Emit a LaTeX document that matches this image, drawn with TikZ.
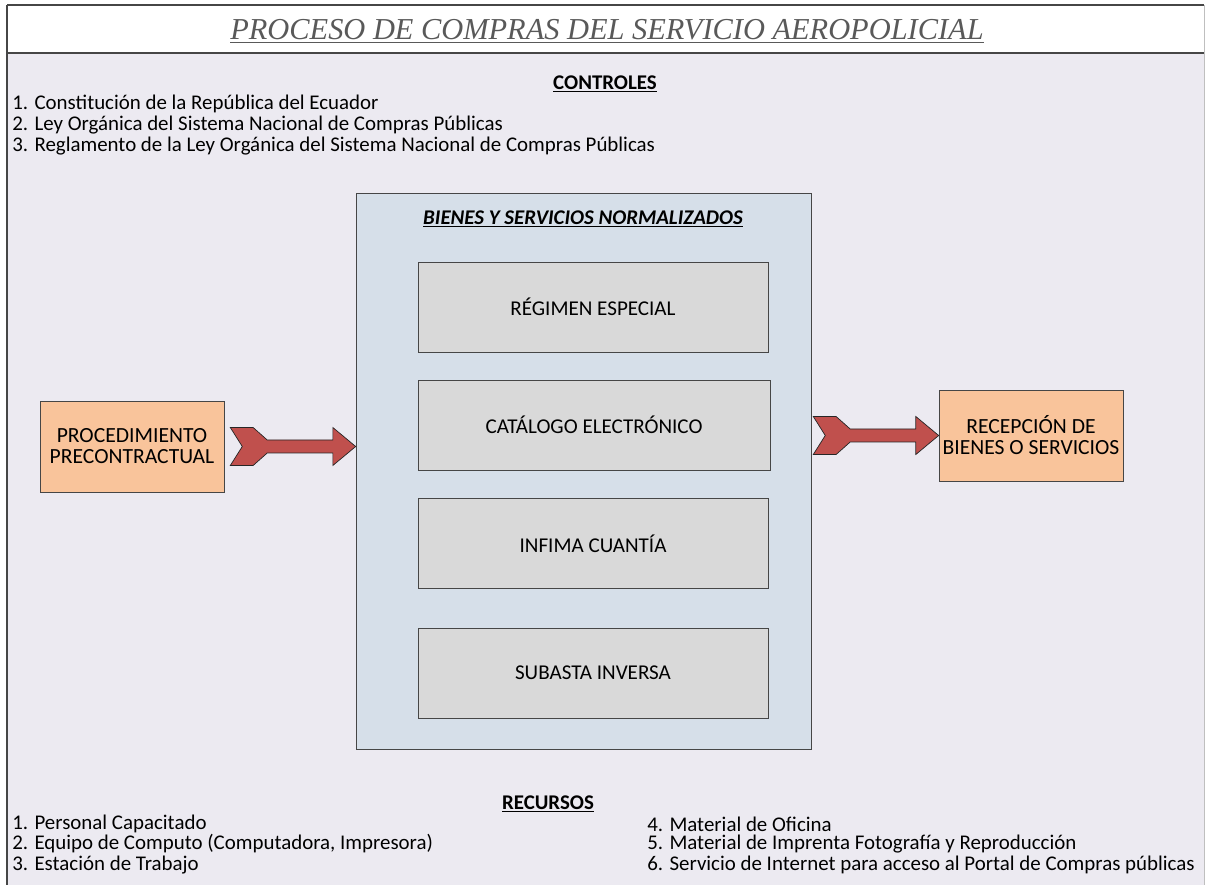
\documentclass[tikz,border=0pt]{standalone}
\usepackage{fontspec}
\setmainfont{Carlito}
\newfontfamily\titlefont{Liberation Serif}
\usetikzlibrary{calc}
\definecolor{apbg}{RGB}{236,234,241}
\definecolor{apblue}{RGB}{214,223,233}
\definecolor{apgray}{RGB}{217,217,217}
\definecolor{aporange}{RGB}{249,196,155}
\definecolor{apred}{RGB}{192,80,77}
\definecolor{apline}{RGB}{70,70,70}

% block arrow with notched tail, from #1 to #2
\newcommand{\fatarrow}[2]{%
  \filldraw[fatarrow] let \p1=(#1), \p2=(#2) in
    (\x1,\y1+10.8pt) -- (\x1+13pt,\y1+10.8pt) -- (\x1+21pt,\y1+3.7pt)
    -- (\x2-13pt,\y1+3.7pt) -- (\x2-13pt,\y1+10.8pt) -- (\x2,\y1)
    -- (\x2-13pt,\y1-10.8pt) -- (\x2-13pt,\y1-3.7pt) -- (\x1+21pt,\y1-3.7pt)
    -- (\x1+13pt,\y1-10.8pt) -- (\x1,\y1-10.8pt) -- (\x1+6.8pt,\y1) -- cycle;}

\begin{document}
\begin{tikzpicture}[x=0.02cm, y=-0.02cm,
  procbox/.style={draw=apline, fill=apgray, minimum width=7cm, minimum height=1.8cm,
    font=\fontsize{12}{14}\selectfont},
  endbox/.style={draw=apline, fill=aporange, minimum width=3.68cm, minimum height=1.82cm,
    inner xsep=1pt, align=center, font=\fontsize{12.3}{12}\selectfont},
  listtext/.style={anchor=west, inner sep=0pt, font=\fontsize{11.9}{13}\selectfont},
  headtext/.style={inner sep=0pt, font=\fontsize{11.9}{13}\selectfont\bfseries},
  fatarrow/.style={draw=black!85, fill=apred, line join=miter}]

\useasboundingbox (0,0) rectangle (1205,885);

% Frame
\fill[apbg] (7,53) rectangle (1205,885);
\fill[white] (7,5) rectangle (1204,53);
\draw[gray!50] (1204,5) -- (1204,885);
\draw[apline, thick] (7,5) -- (1204,5);
\draw[apline, thick] (7,53) -- (1204,53);
\draw[apline, thick] (7,5) -- (7,885);

\node[font=\titlefont\itshape\fontsize{17.3}{20}\selectfont, text=black!65] (title) at (607,31)
  {\underline{PROCESO DE COMPRAS DEL SERVICIO AEROPOLICIAL}};

% Controles
\node[headtext] (ctl) at (605,84) {\underline{CONTROLES}};
\node[listtext] (ctl1) at (12,104) {1. Constitución de la República del Ecuador};
\node[listtext] (ctl2) at (12,125) {2. Ley Orgánica del Sistema Nacional de Compras Públicas};
\node[listtext] (ctl3) at (12,146) {3. Reglamento de la Ley Orgánica del Sistema Nacional de Compras Públicas};

% Bienes y servicios
\node[draw=apline, fill=apblue, minimum width=9.1cm, minimum height=11.12cm] (big) at (583.5,471) {};
\node[headtext, font=\fontsize{11.9}{13}\selectfont\bfseries\itshape] (bienes) at (583,219)
  {\underline{BIENES Y SERVICIOS NORMALIZADOS}};

\node[procbox] (reg) at (593,307) {RÉGIMEN ESPECIAL};
\node[procbox, minimum width=7.04cm] (cat) at (594,425) {CATÁLOGO ELECTRÓNICO};
\node[procbox] (inf) at (593,543.5) {INFIMA CUANTÍA};
\node[procbox] (sub) at (593,673) {SUBASTA INVERSA};

\node[endbox] (pre) at (132,446.5) {PROCEDIMIENTO\\PRECONTRACTUAL};
\node[endbox] (rec) at (1031,435.5) {RECEPCIÓN DE\\BIENES O SERVICIOS};

\fatarrow{[xshift=0.12cm]pre.east}{big.west |- pre.east}
\fatarrow{[xshift=0.04cm]big.east |- rec.west}{rec.west}

% Recursos
\node[headtext] (rcs) at (548,804) {\underline{RECURSOS}};
\node[listtext] (rcs1) at (12,824) {1. Personal Capacitado};
\node[listtext] (rcs2) at (12,844) {2. Equipo de Computo (Computadora, Impresora)};
\node[listtext] (rcs3) at (12,865) {3. Estación de Trabajo};
\node[listtext] (rcs4) at (647,824) {4. Material de Oficina};
\node[listtext] (rcs5) at (647,844) {5. Material de Imprenta Fotografía y Reproducción};
\node[listtext] (rcs6) at (647,865) {6. Servicio de Internet para acceso al Portal de Compras públicas};

\end{tikzpicture}
\end{document}
